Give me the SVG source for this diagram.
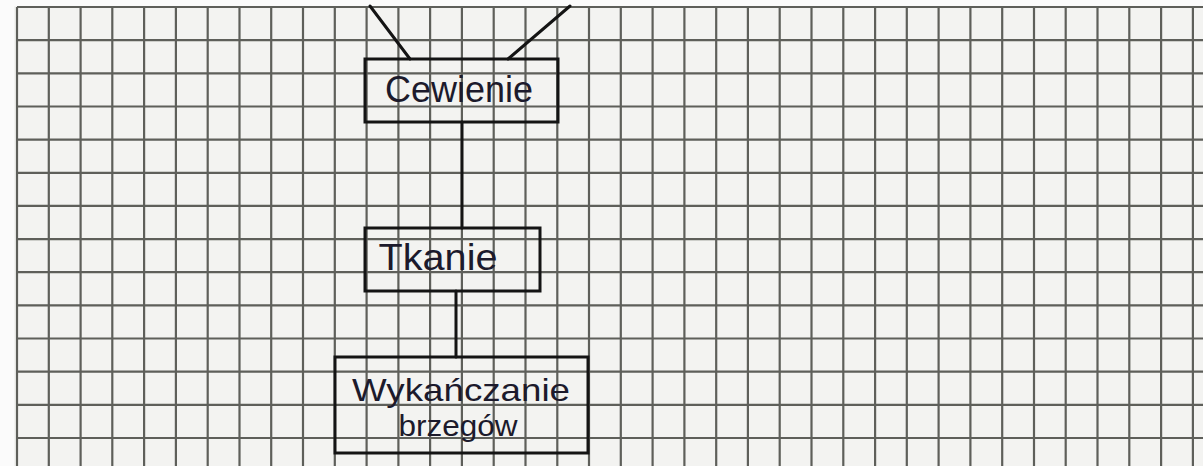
<svg xmlns="http://www.w3.org/2000/svg" width="1203" height="466" viewBox="0 0 1203 466">
  <style>
    .paper { fill: #f3f3f1; }
    .grid { fill: none; stroke: #5e5f5a; stroke-width: 2.2; }
    .box { fill: none; stroke: #141414; stroke-width: 3; }
    .conn { fill: none; stroke: #141414; stroke-width: 3; stroke-linecap: round; }
    .label { font-family: "Liberation Sans", "DejaVu Sans", sans-serif; fill: #1c1a2c; }
  </style>
  <rect x="0" y="0" width="1203" height="466" fill="#fbfbfb"/>
  <rect class="paper" x="14" y="6" width="1189" height="460"/>
  <path class="grid" d="M17 7V466 M48.8 7V466 M80.6 7V466 M112.3 7V466 M144.1 7V466 M175.9 7V466 M207.7 7V466 M239.5 7V466 M271.2 7V466 M303 7V466 M334.8 7V466 M366.6 7V466 M398.4 7V466 M430.1 7V466 M461.9 7V466 M493.7 7V466 M525.5 7V466 M557.3 7V466 M589 7V466 M620.8 7V466 M652.6 7V466 M684.4 7V466 M716.2 7V466 M747.9 7V466 M779.7 7V466 M811.5 7V466 M843.3 7V466 M875.1 7V466 M906.8 7V466 M938.6 7V466 M970.4 7V466 M1002.2 7V466 M1034 7V466 M1065.7 7V466 M1097.5 7V466 M1129.3 7V466 M1161.1 7V466 M1192.9 7V466 M17 7H1203 M17 40.2H1203 M17 73.3H1203 M17 106.5H1203 M17 139.6H1203 M17 172.8H1203 M17 205.9H1203 M17 239.1H1203 M17 272.2H1203 M17 305.4H1203 M17 338.5H1203 M17 371.7H1203 M17 404.8H1203 M17 438H1203"/>
  <g id="connectors">
    <line class="conn" x1="370" y1="6" x2="410" y2="59"/>
    <line class="conn" x1="570" y1="6" x2="508" y2="59"/>
    <line class="conn" x1="462" y1="122" x2="462" y2="228"/>
    <line class="conn" x1="456" y1="291" x2="456" y2="357"/>
  </g>
  <g id="node-cewienie">
    <rect class="box" x="365" y="59" width="193" height="63"/>
    <text class="label" x="459" y="102" font-size="36" text-anchor="middle" textLength="148" lengthAdjust="spacingAndGlyphs">Cewienie</text>
  </g>
  <g id="node-tkanie">
    <rect class="box" x="365" y="228" width="175" height="63"/>
    <text class="label" x="438" y="270" font-size="37" text-anchor="middle" textLength="119" lengthAdjust="spacingAndGlyphs">Tkanie</text>
  </g>
  <g id="node-wykanczanie">
    <rect class="box" x="335" y="357" width="253" height="96"/>
    <text class="label" x="461" y="401" font-size="32" text-anchor="middle" textLength="218" lengthAdjust="spacingAndGlyphs">Wykańczanie</text>
    <text class="label" x="458" y="436" font-size="29" text-anchor="middle" textLength="119" lengthAdjust="spacingAndGlyphs">brzegów</text>
  </g>
</svg>
